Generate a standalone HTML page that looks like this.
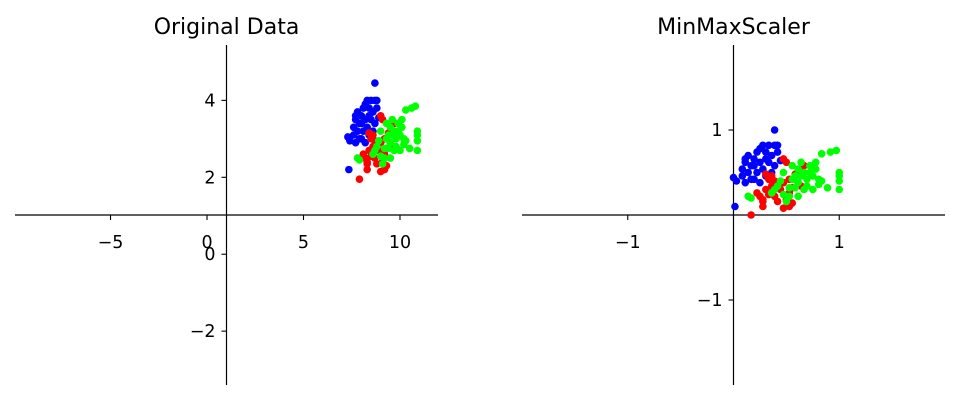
<!DOCTYPE html>
<html><head><meta charset="utf-8"><style>
html,body{margin:0;padding:0;background:#fff;}
svg{display:block;font-family:"DejaVu Sans","Liberation Sans",sans-serif;}
</style></head><body>
<svg id="chart" width="960" height="401" viewBox="0 0 960 401"></svg>
<script>
const blueX=[7.3,7.4,7.35,7.6,7.7,7.7,7.8,7.9,7.8,7.9,7.7,8.0,8.1,8.2,8.3,8.5,8.7,8.8,8.7,8.4,8.6,8.8,8.9,8.2,8.3,8.5,8.1,8.0,8.4,8.6,8.2,7.6,8.0,8.7,8.4];
const blueY=[3.05,2.95,2.2,3.3,3.5,3.6,3.7,3.4,3.2,3.0,2.9,3.6,3.8,3.9,4.0,4.0,4.0,4.0,4.45,3.8,3.7,3.8,3.55,3.5,3.3,3.5,3.2,3.0,3.1,3.2,2.9,3.1,3.4,3.4,3.6];
const redX=[7.9,8.3,8.3,8.2,8.1,8.4,8.5,8.6,8.7,8.8,9.0,9.2,9.3,9.1,9.2,8.9,9.0,9.3,9.5,9.2,9.4,9.6,9.1,9.0,8.6,8.4,8.7,9.6,8.5,9.7,8.3];
const redY=[1.95,2.2,2.35,2.5,2.6,2.7,2.55,2.8,2.5,2.35,2.15,2.2,2.3,2.4,2.6,2.7,2.9,2.75,2.9,3.0,3.15,3.2,3.5,3.6,3.1,3.15,2.95,2.8,3.0,3.4,2.4];
const greenX=[7.8,7.9,8.6,8.7,8.8,8.9,9.0,9.1,9.2,9.3,9.4,9.5,9.5,9.6,9.7,9.8,9.8,9.9,10.0,10.0,10.1,10.2,10.2,9.7,9.4,9.6,10.3,10.6,10.8,10.9,10.9,10.9,10.9,10.5,10.3,9.9,9.5,9.2,9.0,9.3,10.1];
const greenY=[2.5,2.45,2.6,2.7,2.8,2.95,2.55,2.35,2.75,3.0,3.1,2.9,3.3,3.5,3.2,3.0,2.8,3.2,3.1,2.7,3.3,3.0,2.85,2.7,2.75,3.1,3.75,3.8,3.85,3.1,3.2,2.95,2.7,2.75,2.95,3.4,2.5,2.5,3.2,3.4,3.5];
const leftXTicks=[-5,0,5,10];
const leftYTicks=[-2,0,2,4];
const rightXTicks=[-1,1];
const rightYTicks=[-1,1];

const svg=document.getElementById('chart');
const NS='http://www.w3.org/2000/svg';
function mk(tag,attrs,parent){const e=document.createElementNS(NS,tag);for(const k in attrs)e.setAttribute(k,attrs[k]);(parent||svg).appendChild(e);return e;}

const allX=blueX.concat(redX,greenX), allY=blueY.concat(redY,greenY);
const xmin=Math.min(...allX),xmax=Math.max(...allX),ymin=Math.min(...allY),ymax=Math.max(...allY);
const sx=v=>(v-xmin)/(xmax-xmin), sy=v=>(v-ymin)/(ymax-ymin);

function panel(name,title,L,R,T,B,xlim,ylim,xt,yt,tf,fmt){
  const g=mk('g',{});
  
  
  const X=v=>L+(v-xlim[0])/(xlim[1]-xlim[0])*(R-L);
  const Y=v=>B-(v-ylim[0])/(ylim[1]-ylim[0])*(B-T);
  const cx=(L+R)/2, cy=(T+B)/2;
  const t=mk('text',{x:cx,y:34,'text-anchor':'middle','font-size':'22',fill:'#000'},g);t.textContent=title;
  
  
  const xa=mk('line',{x1:L,x2:R,y1:cy,y2:cy,stroke:'#000','stroke-width':1.2},g);
  
  
  const ya=mk('line',{x1:cx,x2:cx,y1:T,y2:B,stroke:'#000','stroke-width':1.2},g);
  
  
  xt.forEach(v=>{
    const x=X(v);
    mk('line',{x1:x,x2:x,y1:cy,y2:cy+5,stroke:'#000','stroke-width':1.1},g);
    const l=mk('text',{x:x,y:cy+33,'text-anchor':'middle','font-size':'17.5'},g);l.textContent=fmt(v);
    
    
  });
  yt.forEach(v=>{
    const y=Y(v);
    mk('line',{x1:cx-5,x2:cx,y1:y,y2:y,stroke:'#000','stroke-width':1.1},g);
    const l=mk('text',{x:cx-11,y:y+6,'text-anchor':'end','font-size':'17.5'},g);l.textContent=fmt(v);
    
    
  });
  [[blueX,blueY,'#0000ff','blue'],[redX,redY,'#ff0000','red'],[greenX,greenY,'#00ff00','green']].forEach(([xs,ys,c,n])=>{
    xs.forEach((v,i)=>{
      const p=mk('circle',{cx:X(tf[0](v)),cy:Y(tf[1](ys[i])),r:3.8,fill:c},g);
      
      
    });
  });
}
const fmt=v=>v<0?'\u2212'+(-v):String(v);
panel('original-data-panel','Original Data',15,438,45,385,[-9.95,11.97],[-3.4,5.44],leftXTicks,leftYTicks,[v=>v,v=>v],fmt);
panel('minmax-scaler-panel','MinMaxScaler',522,945,45,385,[-2.0,2.0],[-2.0,2.0],rightXTicks,rightYTicks,[sx,sy],fmt);
</script>
</body></html>
